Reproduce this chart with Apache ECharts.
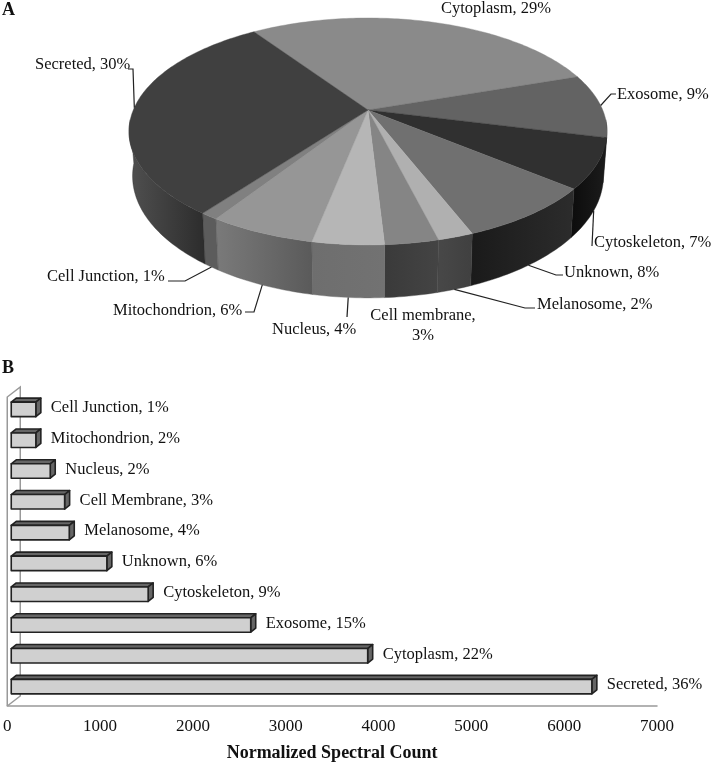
<!DOCTYPE html>
<html>
<head>
<meta charset="utf-8">
<title>Protein localisation</title>
<style>
  html, body { margin: 0; padding: 0; background: #fff; }
  #main { width: 712px; height: 763px; }
</style>
<script src="https://cdn.jsdelivr.net/npm/echarts@6/dist/echarts.min.js"></script>
</head>
<body>
<div id="main"></div>
<script>
// panel A, clockwise from the Secreted/Cytoplasm edge
const pieCategories = ['Cytoplasm', 'Exosome', 'Cytoskeleton', 'Unknown', 'Melanosome', 'Cell membrane', 'Nucleus', 'Mitochondrion', 'Cell Junction', 'Secreted'];
const pieValues = [29, 9, 7, 8, 2, 3, 4, 6, 1, 30];

// panel B, top to bottom
const barCategories = ['Cell Junction', 'Mitochondrion', 'Nucleus', 'Cell Membrane', 'Melanosome', 'Unknown', 'Cytoskeleton', 'Exosome', 'Cytoplasm', 'Secreted'];
const barCounts = [265, 265, 420, 575, 625, 1030, 1475, 2580, 3840, 6255];
const barPercents = [1, 2, 2, 3, 4, 6, 9, 15, 22, 36];
const xTicks = [0, 1000, 2000, 3000, 4000, 5000, 6000, 7000];

// pie colours, same order as pieCategories
const topColors = ['#8a8a8a', '#636363', '#303030', '#707070', '#b0b0b0', '#858585', '#b6b6b6', '#969696', '#808080', '#404040'];
const sideColors = [
  ['#333', '#333'], ['#1a1a1a', '#1a1a1a'], ['#0c0c0c', '#1c1c1c'], ['#1a1a1a', '#2c2c2c'], ['#484848', '#404040'],
  ['#3a3a3a', '#444444'], ['#6e6e6e', '#727272'], ['#7a7a7a', '#5a5a5a'], ['#5c5c5c', '#5c5c5c'], ['#505050', '#2c2c2c']
];

// where each pie label sits: text x/y, align, elbow of the leader line (if any), leader end
const pieLabelLayout = [
  { x: 496, y: 9, align: 'center' },
  { x: 617, y: 95, align: 'left', elbow: [611, 94], end: [616, 94] },
  { x: 594, y: 243, align: 'left', end: [592, 246] },
  { x: 564, y: 273, align: 'left', elbow: [556, 275], end: [563, 275] },
  { x: 537, y: 305, align: 'left', elbow: [525, 308], end: [535, 308] },
  { x: 423, y: 326, align: 'center', wrap: true },
  { x: 272, y: 330, align: 'left', end: [347, 317] },
  { x: 113, y: 311, align: 'left', elbow: [254, 312], end: [245, 312] },
  { x: 47, y: 277, align: 'left', elbow: [185, 281], end: [168, 281] },
  { x: 35, y: 65, align: 'left', elbow: [133, 69], end: [128, 69] }
];

const FONT = '"Liberation Serif", "Times New Roman", serif';
const TEXT_SIZE = 16.5;

// tilted pie: perspective makes the front half bigger than the back half
const PIE = { cx: 368, cy: 110, a: 234.7, b: 109.4, k: 0.189, depth: 43, shrink: 0.985, start: -34.2 };

const pieTotal = pieValues.reduce((s, v) => s + v, 0);
const sliceAngles = [];
let acc = PIE.start;
pieValues.forEach(v => {
  const sweep = v / pieTotal * 360;
  sliceAngles.push([acc, acc + sweep]);
  acc += sweep;
});

function topPoint(deg) {
  const r = deg * Math.PI / 180;
  const u = Math.sin(r), v = -Math.cos(r), d = 1 - PIE.k * v;
  return [PIE.cx + PIE.a * u / d, PIE.cy + PIE.b * v / d];
}
function bottomPoint(deg) {
  const r = deg * Math.PI / 180;
  const v = -Math.cos(r), d = 1 - PIE.k * v;
  const p = topPoint(deg);
  return [PIE.cx + (p[0] - PIE.cx) * PIE.shrink, p[1] + PIE.depth / d];
}
function arc(from, to, fn) {
  const pts = [];
  const n = Math.max(2, Math.ceil(Math.abs(to - from)));
  for (let i = 0; i <= n; i++) pts.push(fn(from + (to - from) * i / n));
  return pts;
}

function renderWall(params) {
  const i = params.dataIndex;
  // only the part of the wall facing the viewer
  const from = Math.max(sliceAngles[i][0], 95);
  const to = Math.min(sliceAngles[i][1], 265);
  if (to <= from) return { type: 'group', children: [] };
  const pts = arc(from, to, topPoint).concat(arc(from, to, bottomPoint).reverse());
  const fill = {
    type: 'linear', x: 0, y: 0, x2: 1, y2: 0,
    colorStops: [{ offset: 0, color: sideColors[i][0] }, { offset: 1, color: sideColors[i][1] }]
  };
  return { type: 'polygon', shape: { points: pts }, style: { fill: fill, stroke: sideColors[i][1], lineWidth: 0.4 } };
}

function renderTop(params) {
  const i = params.dataIndex;
  const pts = [[PIE.cx, PIE.cy]].concat(arc(sliceAngles[i][0], sliceAngles[i][1], topPoint));
  return { type: 'polygon', shape: { points: pts }, style: { fill: topColors[i], stroke: topColors[i], lineWidth: 0.4 } };
}

function renderPieLabel(params) {
  const i = params.dataIndex;
  const lay = pieLabelLayout[i];
  let text = pieCategories[i] + ', ' + pieValues[i] + '%';
  if (lay.wrap) text = text.replace(', ', ',\n');
  const children = [{
    type: 'text',
    style: { x: lay.x, y: lay.y, text: text, font: TEXT_SIZE + 'px ' + FONT, fill: '#111', textAlign: lay.align, verticalAlign: 'middle', lineHeight: 20 }
  }];
  if (lay.end) {
    const mid = (sliceAngles[i][0] + sliceAngles[i][1]) / 2;
    const onFront = -Math.cos(mid * Math.PI / 180) > 0.1;
    const pts = [onFront ? bottomPoint(mid) : topPoint(mid)];
    if (lay.elbow) pts.push(lay.elbow);
    pts.push(lay.end);
    children.push({ type: 'polyline', shape: { points: pts }, style: { stroke: '#222', lineWidth: 1.2, fill: null } });
  }
  return { type: 'group', children: children };
}

// back wall of panel B
const WALL_DX = 13, WALL_DY = 10;
function renderBarWall(params) {
  const g = params.coordSys;
  const line = pts => ({ type: 'polyline', shape: { points: pts }, style: { stroke: '#999', lineWidth: 1.5, fill: null } });
  const left = g.x, top = g.y - 1, bottom = g.y + g.height;
  return {
    type: 'group',
    children: [
      line([[left, bottom], [left, top], [left + WALL_DX, top - WALL_DY], [left + WALL_DX, bottom - WALL_DY], [left, bottom]])
    ]
  };
}

// 3D look of the bars
const BAR_SHIFT = 4, BAR_DX = 5, BAR_DY = 4;
function renderBar(params, api) {
  const i = params.dataIndex;
  const v = api.value(0), cat = api.value(1);
  const a = api.coord([0, cat]), b = api.coord([v, cat]);
  const h = api.size([0, 1])[1] * 0.47;
  const x0 = a[0] + BAR_SHIFT, x1 = b[0] + BAR_SHIFT;
  const y0 = a[1] - BAR_SHIFT - h / 2 , y1 = y0 + h;
  const edge = { stroke: '#222', lineWidth: 1.6, lineJoin: 'round' };
  return {
    type: 'group',
    children: [
      { type: 'polygon', shape: { points: [[x0, y0], [x0 + BAR_DX, y0 - BAR_DY], [x1 + BAR_DX, y0 - BAR_DY], [x1, y0]] }, style: Object.assign({ fill: '#666' }, edge) },
      { type: 'polygon', shape: { points: [[x1, y0], [x1 + BAR_DX, y0 - BAR_DY], [x1 + BAR_DX, y1 - BAR_DY], [x1, y1]] }, style: Object.assign({ fill: '#666' }, edge) },
      { type: 'rect', shape: { x: x0, y: y0, width: x1 - x0, height: h }, style: Object.assign({ fill: '#d0d0d0' }, edge) },
      {
        type: 'text',
        style: {
          x: x1 + BAR_DX + 10, y: (y0 + y1) / 2 - 1.5,
          text: barCategories[i] + ', ' + barPercents[i] + '%',
          font: TEXT_SIZE + 'px ' + FONT, fill: '#111', textAlign: 'left', verticalAlign: 'middle'
        }
      }
    ]
  };
}

const chart = echarts.init(document.getElementById('main'), null, { renderer: 'canvas' });
chart.setOption({
  animation: false,
  backgroundColor: '#fff',
  graphic: [
    { type: 'text', left: 2, top: 1, style: { text: 'A', font: 'bold 18px ' + FONT, fill: '#111' } },
    { type: 'text', left: 2, top: 359, style: { text: 'B', font: 'bold 18px ' + FONT, fill: '#111' } }
  ],
  grid: { left: 6, right: 55, top: 398, bottom: 56, containLabel: false },
  xAxis: {
    type: 'value',
    min: xTicks[0],
    max: xTicks[xTicks.length - 1],
    interval: xTicks[1] - xTicks[0],
    splitLine: { show: false },
    axisTick: { show: false },
    axisLine: { show: true, lineStyle: { color: '#999', width: 1.5 } },
    axisLabel: { color: '#111', fontFamily: 'Liberation Serif', fontSize: 17, margin: 12, showMinLabel: true, showMaxLabel: true, formatter: v => String(v) },
    name: 'Normalized Spectral Count',
    nameLocation: 'middle',
    nameGap: 38,
    nameTextStyle: { color: '#111', fontFamily: 'Liberation Serif', fontSize: 18, fontWeight: 'bold' }
  },
  yAxis: { type: 'category', inverse: true, data: barCategories, show: false },
  series: [
    { type: 'custom', coordinateSystem: 'none', silent: true, renderItem: renderWall, data: pieValues, z: 1 },
    { type: 'custom', coordinateSystem: 'none', silent: true, renderItem: renderTop, data: pieValues, z: 2 },
    { type: 'custom', coordinateSystem: 'none', silent: true, renderItem: renderPieLabel, data: pieValues, z: 3 },
    { type: 'custom', coordinateSystem: 'cartesian2d', silent: true, renderItem: renderBarWall, data: [[0, 0]], z: 1, clip: false },
    {
      type: 'custom', coordinateSystem: 'cartesian2d', silent: true, renderItem: renderBar,
      data: barCounts.map((v, i) => [v, i]),
      encode: { x: 0, y: 1 }, z: 2, clip: false
    }
  ]
});
</script>
</body>
</html>
